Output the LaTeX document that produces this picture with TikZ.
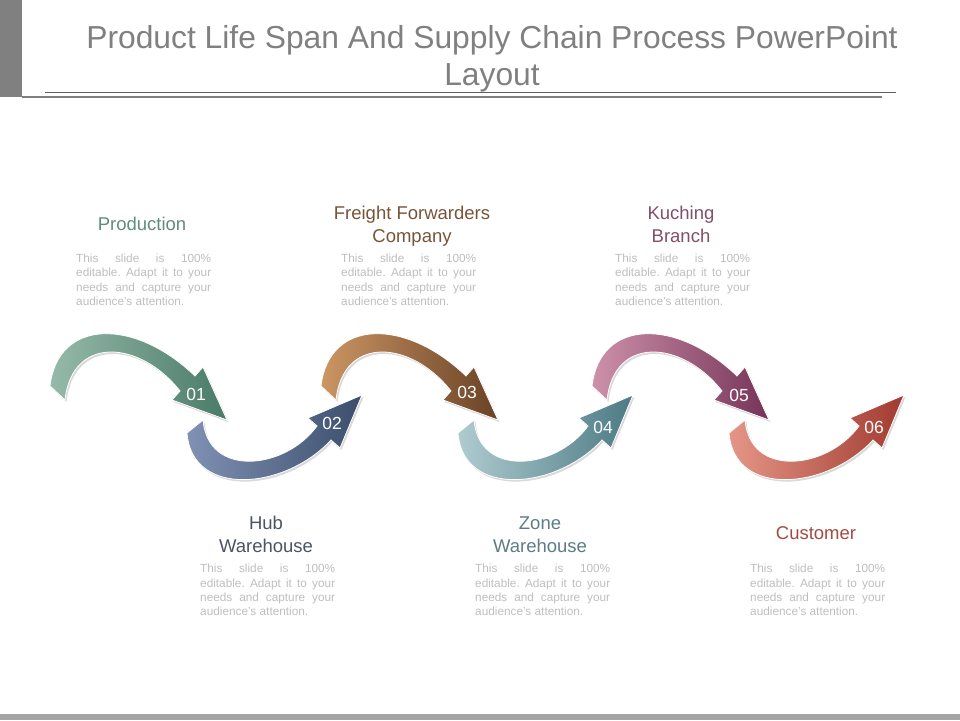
\documentclass[tikz,border=0pt]{standalone}
\usepackage{fontspec}
\setmainfont{Liberation Sans}
\usetikzlibrary{shadows}

\definecolor{titlegray}{RGB}{128,128,128}
\definecolor{bodygray}{RGB}{190,190,190}
\definecolor{rulegray}{RGB}{96,96,96}
\definecolor{footgray}{RGB}{165,165,165}
% arrow colours, tail (light) and head (dark)
\definecolor{prodA}{RGB}{150,186,170}  \definecolor{prodB}{RGB}{74,122,104}
\definecolor{hubA}{RGB}{128,145,180}   \definecolor{hubB}{RGB}{60,78,108}
\definecolor{freiA}{RGB}{204,150,100}  \definecolor{freiB}{RGB}{105,66,38}
\definecolor{zoneA}{RGB}{175,203,208}  \definecolor{zoneB}{RGB}{76,122,132}
\definecolor{kuchA}{RGB}{205,145,170}  \definecolor{kuchB}{RGB}{118,52,88}
\definecolor{custA}{RGB}{228,150,135}  \definecolor{custB}{RGB}{162,58,48}
% label colours
\definecolor{prodT}{RGB}{95,140,125}
\definecolor{freiT}{RGB}{120,84,55}
\definecolor{kuchT}{RGB}{130,78,104}
\definecolor{hubT}{RGB}{75,84,100}
\definecolor{zoneT}{RGB}{92,124,134}
\definecolor{custT}{RGB}{165,74,64}

\newcommand{\blurbtext}{This slide is 100\% \linebreak editable. Adapt it to your \linebreak needs and capture your \linebreak audience's attention.}

\begin{document}
\begin{tikzpicture}[x=1pt,y=-1pt,
	lab/.style={font=\fontsize{18.5}{23}\selectfont, align=center},
	blurb/.style={font=\fontsize{11.8}{14.4}\selectfont, text=bodygray, text width=135pt,
		align=justify, inner sep=0pt, anchor=north west,
		execute at begin node={\frenchspacing\hyphenpenalty=10000 \tolerance=9999}},
	num/.style={font=\fontsize{17.5}{17.5}\selectfont, text=white},
	band/.style={draw=white, line width=0.8pt,
		drop shadow={shadow xshift=1.5pt, shadow yshift=-2pt, opacity=0.3}}]
	\useasboundingbox (0,0) rectangle (960,720);

	% header and footer
	\fill[titlegray] (0,0) rectangle (22,97);
	\draw[rulegray, line width=1pt] (45,92.3) -- (896,92.3);
	\fill[rulegray!80] (22,95.5) rectangle (882,98);
	\fill[footgray] (0,714) rectangle (960,720);
	\node (title) at (492,59)
		[font=\fontsize{31.8}{37}\selectfont, text=titlegray, align=center]
		{Product Life Span And Supply Chain Process PowerPoint\\Layout};

	% the six arrows, two per step
	\foreach \k/\ua/\ub/\la/\lb in {0/prodA/prodB/hubA/hubB, 1/freiA/freiB/zoneA/zoneB, 2/kuchA/kuchB/custA/custB}
	{
		\begin{scope}[xshift=\k*271pt]
		\shadedraw[band, left color=\ua, right color=\ub]
			(50,386) .. controls (58,318) and (135,318) .. (195,376)
			-- (203,367) -- (227,420) -- (172,400) -- (180,391)
			.. controls (140,340) and (72,335) .. (65,400) -- cycle;
		\shadedraw[band, left color=\la, right color=\lb]
			(187,433) .. controls (192,498) and (285,490) .. (331,440)
			-- (340,448) -- (362,395) -- (308,418) -- (317,426)
			.. controls (285,470) and (208,478) .. (203,420) -- cycle;
		\end{scope}
	}

	\node (num1) at (196,394) [num] {01};
	\node (num2) at (332,423) [num] {02};
	\node (num3) at (467,392) [num] {03};
	\node (num4) at (603,427) [num] {04};
	\node (num5) at (739,395) [num] {05};
	\node (num6) at (874,427) [num] {06};

	% upper row
	\node (lab1) at (142,224) [lab, text=prodT] {Production};
	\node (txt1) at (76,253.5) [blurb] {\blurbtext};
	\node (lab3) at (412,226) [lab, text=freiT] {Freight Forwarders\\Company};
	\node (txt3) at (341,253.5) [blurb] {\blurbtext};
	\node (lab5) at (681,224.5) [lab, text=kuchT] {Kuching\\Branch};
	\node (txt5) at (615,253.5) [blurb] {\blurbtext};

	% lower row
	\node (lab2) at (266,534.5) [lab, text=hubT] {Hub\\Warehouse};
	\node (txt2) at (200,564) [blurb] {\blurbtext};
	\node (lab4) at (540,534.5) [lab, text=zoneT] {Zone\\Warehouse};
	\node (txt4) at (475,564) [blurb] {\blurbtext};
	\node (lab6) at (816,533) [lab, text=custT] {Customer};
	\node (txt6) at (750,564) [blurb] {\blurbtext};
\end{tikzpicture}
\end{document}
